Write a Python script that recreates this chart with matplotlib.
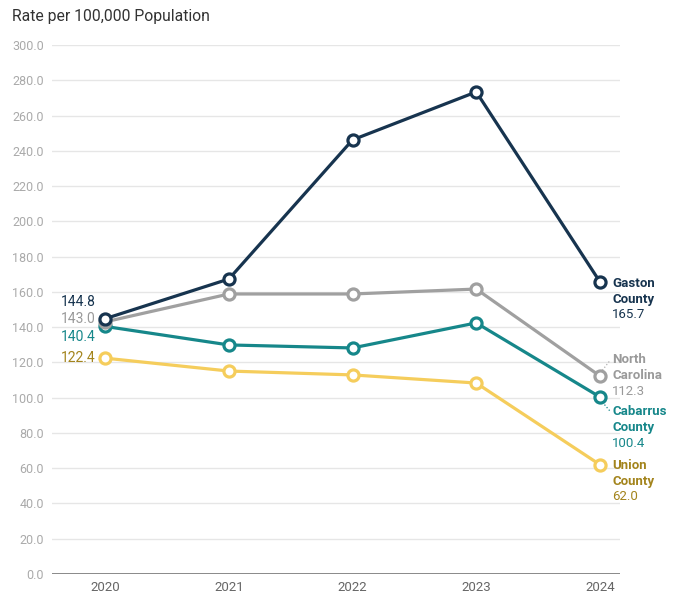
import matplotlib.pyplot as plt

plt.rcParams['font.family'] = ['Roboto', 'DejaVu Sans']

years = [2020, 2021, 2022, 2023, 2024]
gaston = [144.8, 167.3, 246.2, 273.4, 165.7]
north_carolina = [143.0, 158.8, 158.8, 161.6, 112.3]
cabarrus = [140.4, 129.9, 128.2, 142.4, 100.4]
union = [122.4, 115.1, 112.9, 108.3, 62.0]

y_ticks = [0, 20, 40, 60, 80, 100, 120, 140, 160, 180, 200, 220, 240, 260, 280, 300]

series = [
    # name, values, line colour, text colour, start label y, end label y
    (['Gaston', 'County'], gaston, '#17344f', '#17344f', 154.3, 165.0),
    (['North', 'Carolina'], north_carolina, '#a0a0a0', '#9a9a9a', 144.6, 121.4),
    (['Cabarrus', 'County'], cabarrus, '#16878a', '#16878a', 134.4, 91.9),
    (['Union', 'County'], union, '#f5cd5c', '#a3841c', 122.5, 61.8),
]

fig = plt.figure(figsize=(6.81, 5.96), dpi=100)
ax = fig.add_axes([0.0764, 0.0369, 0.8336, 0.8876])

for y in y_ticks[1:]:
    ax.axhline(y, color='#e6e6e6', lw=1, zorder=0)
ax.axhline(0, color='#666666', lw=1.8, zorder=1)

# draw back to front so Gaston sits on top
for names, vals, col, tcol, y0, y1 in reversed(series):
    ax.plot(years, vals, color=col, lw=2.3, marker='o', ms=8,
            mfc='white', mec=col, mew=2.3, zorder=3, solid_capstyle='round')

for names, vals, col, tcol, y0, y1 in series:
    ax.text(2019.92, y0, f'{vals[0]:.1f}', ha='right', va='center',
            fontsize=10, color=tcol)
    x_lab = 2024.1
    ax.text(x_lab, y1, names[0], ha='left', va='center', fontsize=9.5,
            fontweight='bold', color=tcol)
    ax.annotate(names[1], (x_lab, y1), xytext=(0, -11.5), textcoords='offset points',
                ha='left', va='center', fontsize=9.5, fontweight='bold', color=tcol)
    ax.annotate(f'{vals[-1]:.1f}', (x_lab, y1), xytext=(0, -23), textcoords='offset points',
                ha='left', va='center', fontsize=9.5, color=tcol)

# dotted leaders from markers to their labels
ax.plot([2024.02, 2024.08], [115.5, 121.0], color='#b0b0b0', lw=0.9, ls=':', zorder=2)
ax.plot([2024.02, 2024.08], [97.5, 92.5], color='#16878a', lw=0.9, ls=':', zorder=2)

ax.set_xlim(2019.57, 2024.16)
ax.set_ylim(0, 300)
ax.set_xticks(years)
ax.set_xticklabels([str(y) for y in years])
ax.set_yticks(y_ticks)
ax.set_yticklabels([f'{y:.1f}' for y in y_ticks])
ax.tick_params(axis='both', length=0, labelsize=9)
ax.tick_params(axis='x', pad=5, labelsize=9.5, labelcolor='#666666')
ax.tick_params(axis='y', pad=6, labelcolor='#aaaaaa')
for s in ax.spines.values():
    s.set_visible(False)
ax.patch.set_alpha(0)

fig.text(12 / 681, 1 - 17 / 596, 'Rate per 100,000 Population', ha='left', va='center',
         fontsize=11.3, color='#333333')

fig.savefig('out.png', dpi=100, facecolor='white')
